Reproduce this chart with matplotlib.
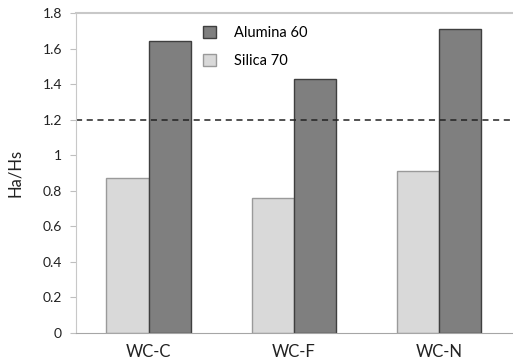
import matplotlib.pyplot as plt
import numpy as np

plt.rcParams['font.family'] = ['Lato', 'DejaVu Sans']

categories = ["WC-C", "WC-F", "WC-N"]
silica = [0.87, 0.76, 0.91]
alumina = [1.64, 1.43, 1.71]
threshold = 1.2

fig = plt.figure(figsize=(5.13, 3.63), dpi=100)
ax = fig.add_axes([0.148, 0.083, 0.85, 0.881])

x = np.arange(len(categories))
w = 0.29
ax.bar(x - w / 2, silica, width=w, color="#d9d9d9", edgecolor="#9a9a9a", linewidth=1, label="Silica 70")
ax.bar(x + w / 2, alumina, width=w, color="#7f7f7f", edgecolor="#3f3f3f", linewidth=1, label="Alumina 60")
ax.axhline(threshold, color="#222222", linestyle=(0, (4, 3)), linewidth=1.1)

ax.set_xlim(-0.5, 2.5)
ax.set_ylim(0, 1.8)
ax.set_yticks(np.arange(0, 1.81, 0.2))
ax.set_yticklabels(["0", "0.2", "0.4", "0.6", "0.8", "1", "1.2", "1.4", "1.6", "1.8"], fontsize=10, color="#222222")
ax.set_xticks(x)
ax.set_xticklabels(categories, fontsize=12, color="#222222")
ax.tick_params(axis="x", length=0, pad=8)
ax.tick_params(axis="y", length=4, color="#bfbfbf", pad=6)
ax.set_ylabel("Ha/Hs", fontsize=12, color="#222222", labelpad=14)

ax.spines["right"].set_visible(False)
ax.spines["left"].set_color("#c8c8c8")
ax.spines["top"].set_color("#c8c8c8")
ax.spines["top"].set_linewidth(1.5)
ax.spines["bottom"].set_color("#a6a6a6")

handles, labels = ax.get_legend_handles_labels()
ax.legend(handles[::-1], labels[::-1], loc="upper left", bbox_to_anchor=(0.262, 1.0),
          frameon=False, fontsize=10.5, handlelength=0.9, handleheight=0.9,
          labelspacing=0.95, handletextpad=1.2)

fig.savefig("out.png", dpi=100)
